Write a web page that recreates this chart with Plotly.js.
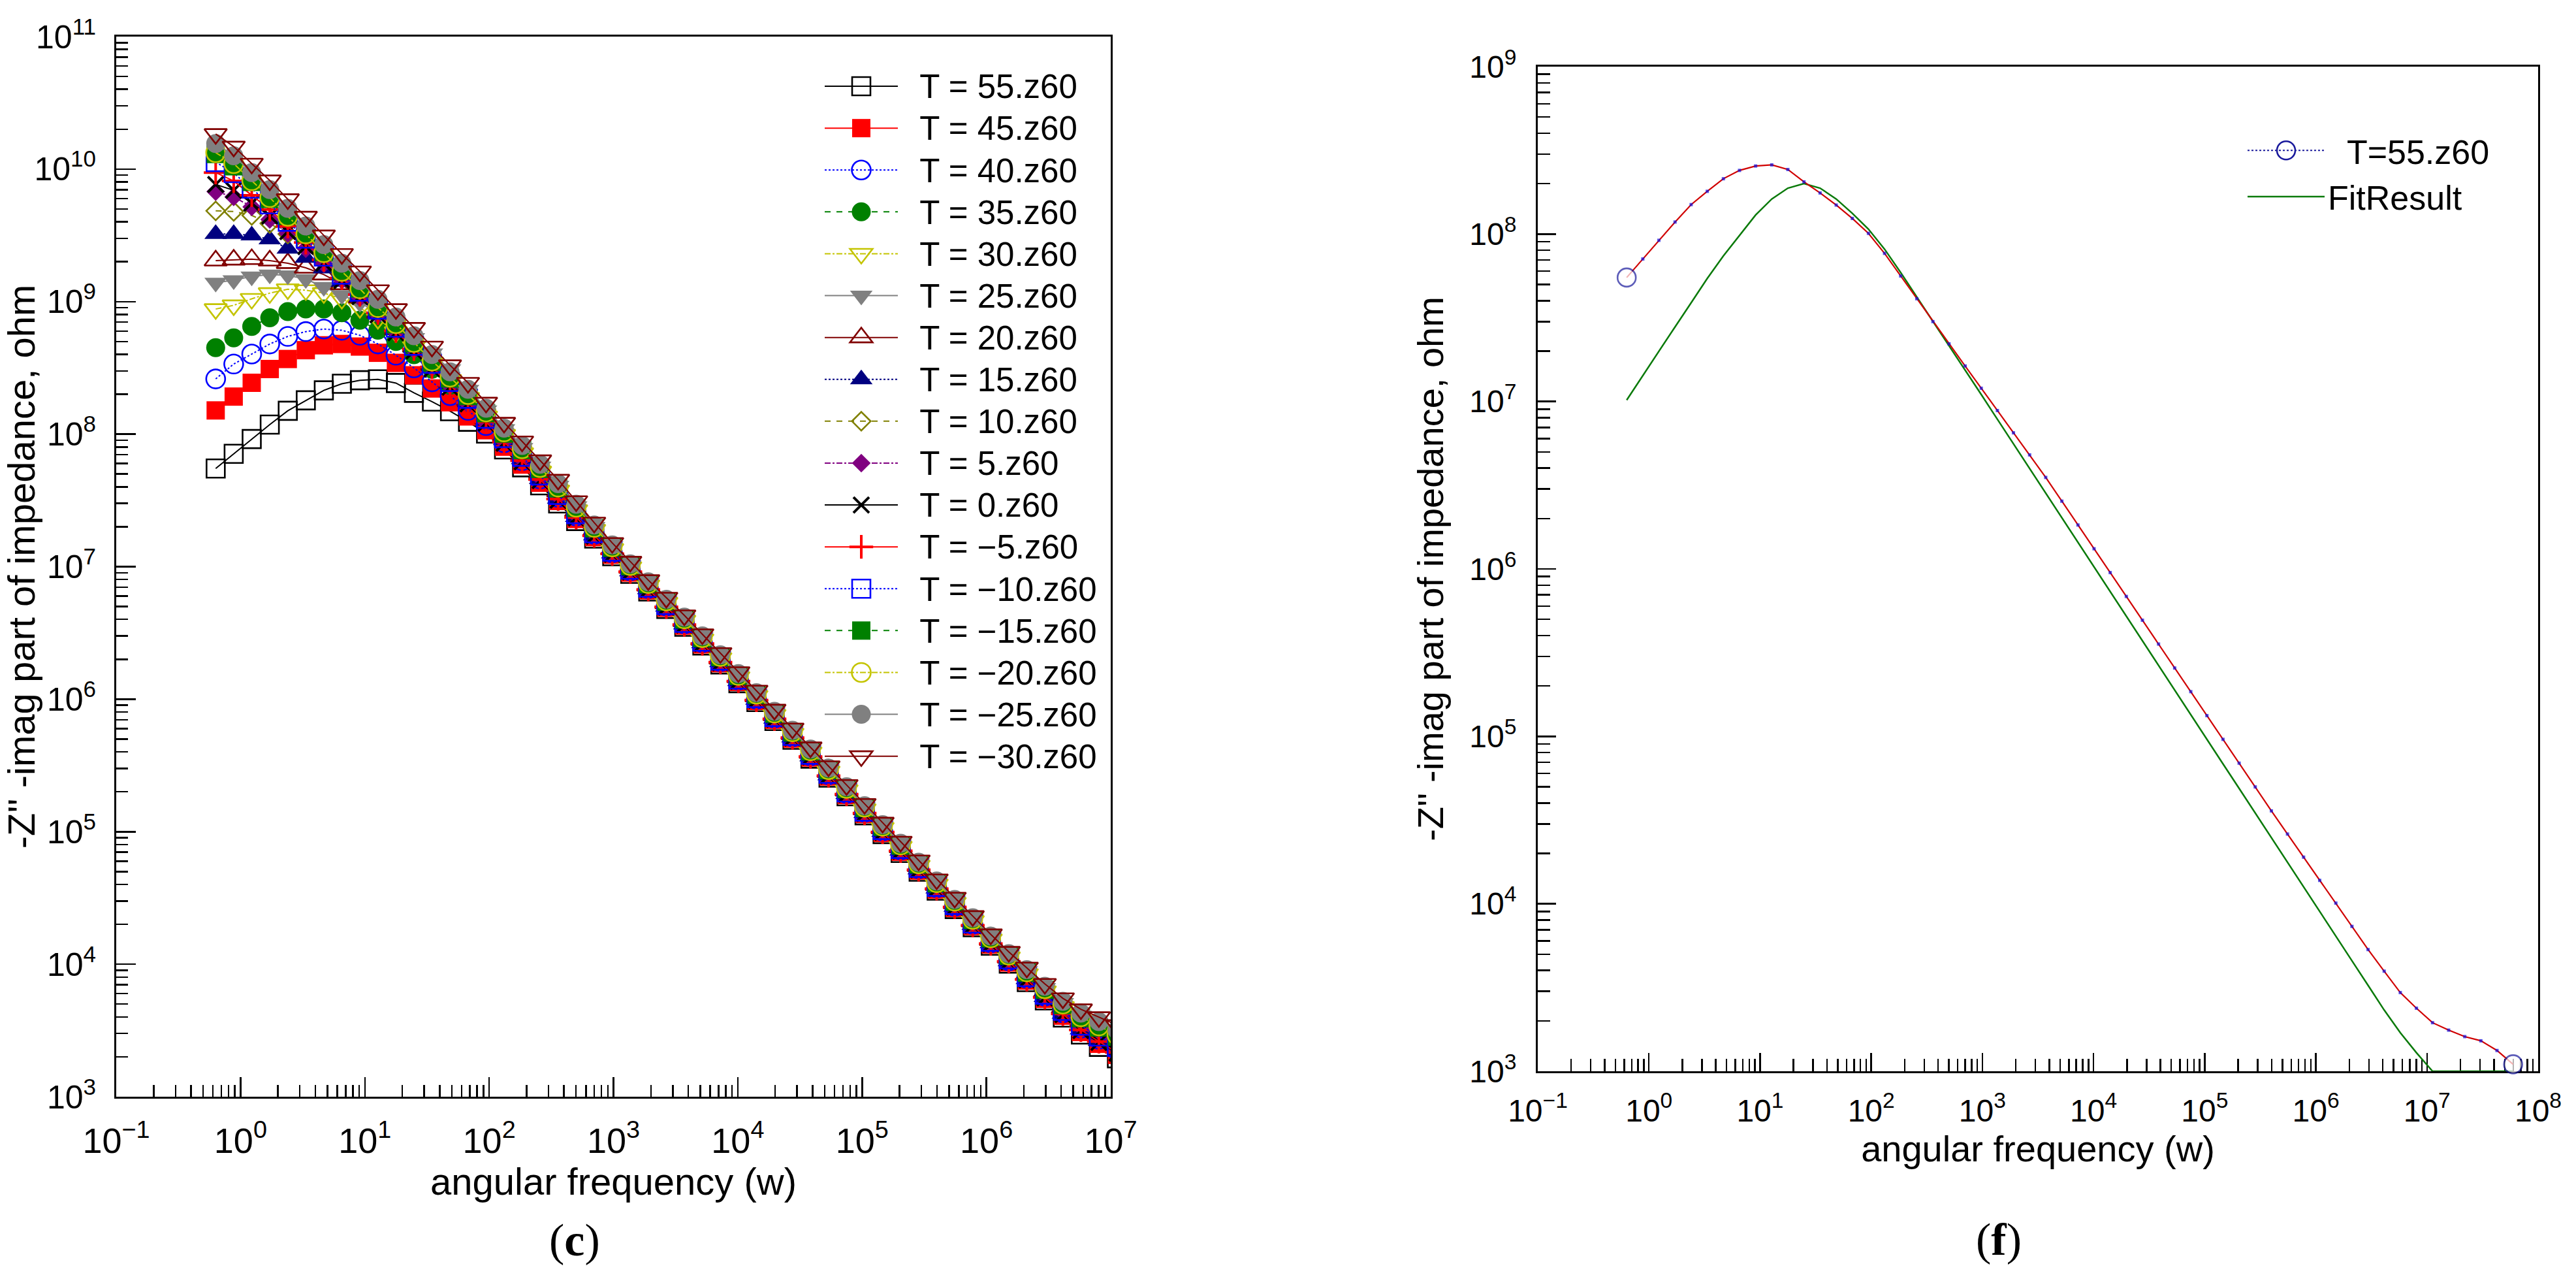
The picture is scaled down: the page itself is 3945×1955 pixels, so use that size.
<!DOCTYPE html>
<html><head><meta charset="utf-8">
<script src="https://cdn.plot.ly/plotly-3.0.1.min.js"></script>
<style>html,body{margin:0;padding:0;background:#fff;}#chart{width:3945px;height:1955px;}</style>
</head><body><div id="chart"></div>
<script>
// ---------------- data ----------------
const freq = [0.631, 0.881, 1.230, 1.718, 2.399, 3.350, 4.677, 6.531, 9.120, 12.74, 17.78, 24.83, 34.67, 48.42, 67.61, 94.41, 131.8, 184.1, 257.0, 358.9, 501.2, 699.8, 977.2, 1365, 1905, 2661, 3715, 5188, 7244, 10116, 14125, 19724, 27542, 38459, 53703, 74989, 104713, 146218, 204174, 285102, 398107, 555904, 776247, 1083927, 1513561, 2113489, 2951209, 4120975, 5754399, 8035261, 11220185, 15667510, 21877616, 30549211, 42657952, 59566214];

const z55 = [5.50e7, 7.10e7, 9.18e7, 1.18e8, 1.50e8, 1.80e8, 2.14e8, 2.40e8, 2.55e8, 2.59e8, 2.43e8, 2.05e8, 1.76e8, 1.49e8, 1.24e8, 1.01e8, 7.67e7, 5.62e7, 4.11e7, 3.00e7, 2.21e7, 1.63e7, 1.20e7, 8.83e6, 6.50e6, 4.80e6, 3.52e6, 2.54e6, 1.83e6, 1.32e6, 9.51e5, 6.85e5, 4.94e5, 3.56e5, 2.56e5, 1.85e5, 1.33e5, 9.60e4, 6.92e4, 4.99e4, 3.59e4, 2.61e4, 1.90e4, 1.38e4, 1.01e4, 7330, 5330, 3960, 2950, 2380, 1950, 1760, 1610, 1520, 1330, 1100];

const fitResult = [1.02e7, 1.43e7, 2.00e7, 2.79e7, 3.89e7, 5.43e7, 7.41e7, 9.77e7, 1.30e8, 1.62e8, 1.88e8, 2.00e8, 1.88e8, 1.62e8, 1.33e8, 1.07e8, 8.13e7, 5.89e7, 4.22e7, 3.02e7, 2.16e7, 1.54e7, 1.10e7, 7.83e6, 5.58e6, 3.98e6, 2.84e6, 2.02e6, 1.44e6, 1.03e6, 7.33e5, 5.22e5, 3.72e5, 2.65e5, 1.89e5, 1.35e5, 9.62e4, 6.85e4, 4.89e4, 3.48e4, 2.48e4, 1.77e4, 1.26e4, 8990, 6410, 4570, 3260, 2320, 1700, 1290, 1000, 1000, 1000, 1000, 1000, 1000];

const zT45 = [1.51e8, 1.92e8, 2.44e8, 3.10e8, 3.69e8, 4.30e8, 4.68e8, 4.79e8, 4.58e8, 4.11e8, 3.45e8, 2.78e8, 2.21e8, 1.74e8, 1.36e8, 1.07e8, 8.04e7, 5.89e7, 4.30e7, 3.13e7, 2.29e7, 1.67e7, 1.23e7, 9.02e6, 6.63e6, 4.90e6, 3.59e6, 2.59e6, 1.87e6, 1.35e6, 9.70e5, 6.99e5, 5.04e5, 3.63e5, 2.61e5, 1.89e5, 1.36e5, 9.79e4, 7.06e4, 5.09e4, 3.66e4, 2.66e4, 1.94e4, 1.41e4, 1.03e4, 7520, 5480, 4090, 3080, 2510, 2070];
const zT40 = [2.61e8, 3.38e8, 4.02e8, 4.79e8, 5.46e8, 5.94e8, 6.21e8, 6.08e8, 5.57e8, 4.79e8, 3.94e8, 3.16e8, 2.48e8, 1.95e8, 1.51e8, 1.16e8, 8.61e7, 6.30e7, 4.58e7, 3.33e7, 2.41e7, 1.75e7, 1.27e7, 9.31e6, 6.83e6, 5.04e6, 3.70e6, 2.67e6, 1.92e6, 1.39e6, 9.99e5, 7.19e5, 5.19e5, 3.74e5, 2.69e5, 1.94e5, 1.40e5, 1.01e5, 7.27e4, 5.24e4, 3.77e4, 2.74e4, 2.00e4, 1.45e4, 1.06e4, 7810, 5730, 4300, 3290, 2710, 2250];
const zT35 = [4.49e8, 5.33e8, 6.49e8, 7.55e8, 8.41e8, 8.79e8, 8.79e8, 8.24e8, 7.23e8, 6.08e8, 5.01e8, 3.98e8, 3.09e8, 2.34e8, 1.82e8, 1.39e8, 1.01e8, 7.36e7, 5.33e7, 3.84e7, 2.72e7, 1.92e7, 1.38e7, 1.00e7, 7.31e6, 5.40e6, 3.96e6, 2.86e6, 2.06e6, 1.49e6, 1.07e6, 7.71e5, 5.56e5, 4.01e5, 2.88e5, 2.08e5, 1.50e5, 1.08e5, 7.79e4, 5.61e4, 4.04e4, 2.94e4, 2.14e4, 1.55e4, 1.14e4, 8530, 6340, 4840, 3840, 3250, 2760];
const zT30 = [8.79e8, 9.38e8, 1.05e9, 1.16e9, 1.24e9, 1.22e9, 1.16e9, 1.05e9, 8.97e8, 7.41e8, 5.89e8, 4.57e8, 3.47e8, 2.57e8, 1.88e8, 1.36e8, 9.89e7, 7.19e7, 5.22e7, 3.76e7, 2.67e7, 1.90e7, 1.36e7, 9.91e6, 7.24e6, 5.35e6, 3.92e6, 2.83e6, 2.04e6, 1.47e6, 1.06e6, 7.63e5, 5.50e5, 3.97e5, 2.85e5, 2.06e5, 1.48e5, 1.07e5, 7.71e4, 5.56e4, 4.00e4, 2.91e4, 2.12e4, 1.54e4, 1.13e4, 8420, 6250, 4760, 3750, 3170, 2680];
const zT25 = [1.39e9, 1.45e9, 1.55e9, 1.60e9, 1.58e9, 1.48e9, 1.29e9, 1.12e9, 9.77e8, 8.32e8, 6.76e8, 5.31e8, 4.07e8, 3.09e8, 2.16e8, 1.51e8, 1.09e8, 7.87e7, 5.70e7, 4.08e7, 2.86e7, 2.00e7, 1.43e7, 1.03e7, 7.53e6, 5.56e6, 4.08e6, 2.94e6, 2.12e6, 1.53e6, 1.10e6, 7.93e5, 5.72e5, 4.12e5, 2.96e5, 2.14e5, 1.54e5, 1.11e5, 8.01e4, 5.78e4, 4.16e4, 3.02e4, 2.20e4, 1.60e4, 1.18e4, 8860, 6620, 5090, 4090, 3510, 3000];
const zT20 = [2.04e9, 2.07e9, 2.09e9, 2.04e9, 1.95e9, 1.80e9, 1.60e9, 1.35e9, 1.07e9, 8.22e8, 6.17e8, 4.57e8, 3.35e8, 2.45e8, 1.80e8, 1.32e8, 9.66e7, 7.00e7, 5.07e7, 3.69e7, 2.62e7, 1.87e7, 1.35e7, 9.79e6, 7.17e6, 5.29e6, 3.88e6, 2.80e6, 2.02e6, 1.46e6, 1.05e6, 7.56e5, 5.45e5, 3.93e5, 2.82e5, 2.04e5, 1.47e5, 1.06e5, 7.63e4, 5.50e4, 3.96e4, 2.88e4, 2.10e4, 1.52e4, 1.12e4, 8320, 6160, 4680, 3670, 3080, 2600];
const zT15 = [3.24e9, 3.24e9, 3.16e9, 2.95e9, 2.51e9, 2.14e9, 1.78e9, 1.41e9, 1.08e9, 8.22e8, 6.10e8, 4.47e8, 3.27e8, 2.40e8, 1.74e8, 1.26e8, 9.02e7, 6.46e7, 4.57e7, 3.26e7, 2.37e7, 1.72e7, 1.26e7, 9.20e6, 6.76e6, 4.99e6, 3.66e6, 2.64e6, 1.90e6, 1.37e6, 9.89e5, 7.12e5, 5.14e5, 3.70e5, 2.66e5, 1.92e5, 1.38e5, 9.98e4, 7.20e4, 5.19e4, 3.73e4, 2.71e4, 1.98e4, 1.44e4, 1.05e4, 7710, 5640, 4230, 3220, 2640, 2190];
const zT10 = [4.84e9, 4.79e9, 4.47e9, 3.89e9, 3.24e9, 2.63e9, 2.09e9, 1.60e9, 1.20e9, 8.91e8, 6.53e8, 4.79e8, 3.51e8, 2.57e8, 1.86e8, 1.35e8, 9.66e7, 6.92e7, 4.95e7, 3.54e7, 2.54e7, 1.82e7, 1.32e7, 9.59e6, 7.03e6, 5.19e6, 3.81e6, 2.75e6, 1.98e6, 1.43e6, 1.03e6, 7.40e5, 5.34e5, 3.85e5, 2.77e5, 2.00e5, 1.44e5, 1.04e5, 7.48e4, 5.39e4, 3.88e4, 2.82e4, 2.05e4, 1.49e4, 1.10e4, 8110, 5980, 4530, 3510, 2930, 2460];
const zT5 = [6.76e9, 6.17e9, 5.19e9, 4.17e9, 3.27e9, 2.51e9, 1.93e9, 1.45e9, 1.07e9, 7.94e8, 5.89e8, 4.32e8, 3.16e8, 2.32e8, 1.68e8, 1.22e8, 8.81e7, 6.46e7, 4.69e7, 3.40e7, 2.45e7, 1.77e7, 1.29e7, 9.40e6, 6.90e6, 5.09e6, 3.73e6, 2.69e6, 1.94e6, 1.40e6, 1.01e6, 7.27e5, 5.24e5, 3.78e5, 2.72e5, 1.96e5, 1.41e5, 1.02e5, 7.34e4, 5.29e4, 3.81e4, 2.77e4, 2.02e4, 1.46e4, 1.07e4, 7910, 5810, 4380, 3360, 2780, 2320];
const zT0 = [7.66e9, 6.92e9, 5.53e9, 4.42e9, 3.37e9, 2.61e9, 1.95e9, 1.44e9, 1.09e9, 7.94e8, 5.81e8, 4.24e8, 3.10e8, 2.26e8, 1.69e8, 1.21e8, 8.53e7, 6.17e7, 4.45e7, 3.17e7, 2.33e7, 1.70e7, 1.24e7, 9.12e6, 6.70e6, 4.94e6, 3.63e6, 2.62e6, 1.88e6, 1.36e6, 9.80e5, 7.06e5, 5.09e5, 3.67e5, 2.64e5, 1.91e5, 1.37e5, 9.89e4, 7.13e4, 5.14e4, 3.70e4, 2.69e4, 1.96e4, 1.42e4, 1.04e4, 7620, 5560, 4160, 3150, 2570, 2130];
const zTm5 = [9.42e9, 8.13e9, 6.35e9, 4.95e9, 3.70e9, 2.79e9, 2.07e9, 1.51e9, 1.13e9, 8.22e8, 6.01e8, 4.39e8, 3.21e8, 2.34e8, 1.73e8, 1.24e8, 8.73e7, 6.31e7, 4.55e7, 3.24e7, 2.35e7, 1.71e7, 1.25e7, 9.16e6, 6.73e6, 4.97e6, 3.65e6, 2.63e6, 1.90e6, 1.37e6, 9.85e5, 7.10e5, 5.12e5, 3.69e5, 2.65e5, 1.92e5, 1.38e5, 9.95e4, 7.17e4, 5.17e4, 3.72e4, 2.70e4, 1.97e4, 1.43e4, 1.05e4, 7670, 5610, 4210, 3190, 2610, 2160];
const zTm10 = [1.13e10, 9.33e9, 7.13e9, 5.43e9, 4.01e9, 2.99e9, 2.19e9, 1.60e9, 1.19e9, 8.71e8, 6.37e8, 4.65e8, 3.40e8, 2.48e8, 1.85e8, 1.31e8, 9.35e7, 6.76e7, 4.88e7, 3.48e7, 2.49e7, 1.79e7, 1.30e7, 9.51e6, 6.96e6, 5.14e6, 3.77e6, 2.72e6, 1.96e6, 1.41e6, 1.02e6, 7.34e5, 5.29e5, 3.81e5, 2.74e5, 1.98e5, 1.42e5, 1.03e5, 7.41e4, 5.34e4, 3.84e4, 2.80e4, 2.03e4, 1.48e4, 1.09e4, 8010, 5900, 4450, 3440, 2850, 2380];
const zTm15 = [1.30e10, 1.05e10, 8.00e9, 5.96e9, 4.45e9, 3.28e9, 2.37e9, 1.71e9, 1.26e9, 9.12e8, 6.75e8, 4.86e8, 3.52e8, 2.63e8, 1.94e8, 1.44e8, 1.01e8, 7.59e7, 5.47e7, 3.90e7, 2.77e7, 1.95e7, 1.39e7, 1.01e7, 7.38e6, 5.45e6, 4.00e6, 2.89e6, 2.08e6, 1.50e6, 1.08e6, 7.78e5, 5.61e5, 4.04e5, 2.91e5, 2.10e5, 1.51e5, 1.09e5, 7.86e4, 5.67e4, 4.08e4, 2.96e4, 2.16e4, 1.57e4, 1.16e4, 8640, 6420, 4920, 3920, 3330, 2840];
const zTm20 = [1.33e10, 1.10e10, 8.18e9, 6.10e9, 4.40e9, 3.24e9, 2.34e9, 1.69e9, 1.25e9, 9.02e8, 6.82e8, 4.92e8, 3.56e8, 2.69e8, 1.99e8, 1.47e8, 1.04e8, 7.76e7, 5.60e7, 3.99e7, 2.81e7, 1.98e7, 1.41e7, 1.02e7, 7.46e6, 5.51e6, 4.04e6, 2.91e6, 2.10e6, 1.51e6, 1.09e6, 7.86e5, 5.67e5, 4.08e5, 2.94e5, 2.12e5, 1.53e5, 1.10e5, 7.94e4, 5.72e4, 4.12e4, 2.99e4, 2.18e4, 1.58e4, 1.17e4, 8750, 6520, 5000, 4010, 3420, 2920];
const zTm25 = [1.56e10, 1.26e10, 9.40e9, 7.00e9, 5.05e9, 3.72e9, 2.69e9, 1.95e9, 1.44e9, 1.04e9, 7.66e8, 5.52e8, 3.99e8, 2.95e8, 2.18e8, 1.57e8, 1.11e8, 8.22e7, 5.93e7, 4.23e7, 2.96e7, 2.06e7, 1.46e7, 1.05e7, 7.68e6, 5.67e6, 4.16e6, 3.00e6, 2.16e6, 1.56e6, 1.12e6, 8.09e5, 5.83e5, 4.20e5, 3.02e5, 2.18e5, 1.57e5, 1.13e5, 8.17e4, 5.89e4, 4.24e4, 3.08e4, 2.24e4, 1.63e4, 1.20e4, 9090, 6810, 5250, 4280, 3690, 3180];
const zTm30 = [1.84e10, 1.48e10, 1.10e10, 8.22e9, 5.93e9, 4.38e9, 3.16e9, 2.29e9, 1.69e9, 1.22e9, 8.79e8, 6.34e8, 4.58e8, 3.31e8, 2.44e8, 1.73e8, 1.22e8, 8.81e7, 6.35e7, 4.53e7, 3.12e7, 2.15e7, 1.51e7, 1.09e7, 7.91e6, 5.83e6, 4.29e6, 3.09e6, 2.23e6, 1.60e6, 1.16e6, 8.34e5, 6.01e5, 4.33e5, 3.12e5, 2.25e5, 1.62e5, 1.17e5, 8.41e4, 6.07e4, 4.37e4, 3.18e4, 2.31e4, 1.68e4, 1.24e4, 9440, 7110, 5530, 4570, 3990, 3470];

const seriesLabels = ['T = 55.z60', 'T = 45.z60', 'T = 40.z60', 'T = 35.z60', 'T = 30.z60', 'T = 25.z60', 'T = 20.z60', 'T = 15.z60', 'T = 10.z60', 'T = 5.z60', 'T = 0.z60', 'T = \u22125.z60', 'T = \u221210.z60', 'T = \u221215.z60', 'T = \u221220.z60', 'T = \u221225.z60', 'T = \u221230.z60'];
const rightLabels = ['T=55.z60', 'FitResult'];

// ---------------- styles ----------------
const leftValues = [z55.slice(0, 51), zT45, zT40, zT35, zT30, zT25, zT20, zT15, zT10, zT5, zT0, zTm5, zTm10, zTm15, zTm20, zTm25, zTm30];
const styles = [
  {c:'#000000', sym:'square-open',        sz:28, dash:'solid'},
  {c:'#ff0000', sym:'square',             sz:28, dash:'solid'},
  {c:'#0000ff', sym:'circle-open',        sz:29, dash:'dot'},
  {c:'#008000', sym:'circle',             sz:29, dash:'dash'},
  {c:'#c4c400', sym:'triangle-down-open', sz:30, dash:'dashdot'},
  {c:'#808080', sym:'triangle-down',      sz:30, dash:'solid'},
  {c:'#800000', sym:'triangle-up-open',   sz:30, dash:'solid'},
  {c:'#000080', sym:'triangle-up',        sz:30, dash:'dot'},
  {c:'#808000', sym:'diamond-open',       sz:22, dash:'dash'},
  {c:'#800080', sym:'diamond',            sz:22, dash:'dashdot'},
  {c:'#000000', sym:'x-thin',             sz:24, dash:'solid', lw:4},
  {c:'#ff0000', sym:'cross-thin',         sz:26, dash:'solid', lw:4},
  {c:'#0000ff', sym:'square-open',        sz:28, dash:'dot'},
  {c:'#008000', sym:'square',             sz:28, dash:'dash'},
  {c:'#c4c400', sym:'circle-open',        sz:29, dash:'dashdot'},
  {c:'#808080', sym:'circle',             sz:29, dash:'solid'},
  {c:'#800000', sym:'triangle-down-open', sz:30, dash:'solid'}
];

const W = 3945, H = 1955;
const px = v => v / W;
const py = v => 1 - v / H;
const FONT = 'Liberation Sans, Arial, Helvetica, sans-serif';
const NB = '\u00a0\u00a0';

function supLabel(n) { return '10<sup>' + (n < 0 ? '\u2212' + (-n) : n) + '</sup>'; }
function decadeVals(a, b) { const v = []; for (let n = a; n <= b; n++) v.push(Math.pow(10, n)); return v; }
function decadeText(a, b) { const t = []; for (let n = a; n <= b; n++) t.push(supLabel(n)); return t; }
function minorVals(a, b) { const v = []; for (let n = a; n < b; n++) for (let m = 2; m <= 9; m++) v.push(m * Math.pow(10, n)); return v; }

function logAxis(o) {
  return {
    type: 'log', range: o.range, domain: o.domain, anchor: o.anchor,
    showline: true, linecolor: '#000', linewidth: 3, mirror: true, layer: o.layer || 'above traces',
    showgrid: false, zeroline: false,
    ticks: 'inside', ticklen: o.len, tickwidth: 2.5, tickcolor: '#000',
    tickmode: 'array', tickvals: decadeVals(o.range[0], o.range[1]), ticktext: decadeText(o.range[0], o.range[1]),
    tickfont: {family: FONT, size: o.font, color: '#000'},
    ticklabelstandoff: o.standoff,
    minor: {ticks: 'inside', ticklen: o.mlen, tickwidth: 2.5, tickcolor: '#000', tickmode: 'array', tickvals: minorVals(o.range[0], o.range[1]), showgrid: false},
    title: {text: o.title, font: {family: FONT, size: o.tfont, color: '#000'}, standoff: o.tstandoff},
    automargin: false, fixedrange: true
  };
}

const traces = [];
const xLeft = freq.slice(0, 51);
leftValues.forEach((vals, i) => {
  const s = styles[i];
  const open = s.sym.indexOf('open') >= 0 || s.sym.indexOf('thin') >= 0;
  traces.push({
    type: 'scatter', mode: 'lines+markers', name: NB + seriesLabels[i],
    x: xLeft.slice(0, vals.length), y: vals, xaxis: 'x', yaxis: 'y', legend: 'legend',
    line: {color: s.c, width: 2, dash: s.dash},
    marker: {symbol: s.sym, size: s.sz, color: s.c, line: {color: s.c, width: open ? (s.lw || 2.6) : 0}}
  });
});

// right panel
const nR = freq.length;
traces.push({
  type: 'scatter', mode: 'lines', name: rightLabels[1], x: freq, y: fitResult, xaxis: 'x2', yaxis: 'y2',
  legend: 'legend2', legendrank: 2, line: {color: '#0a7a0a', width: 2.5}
});
traces.push({
  type: 'scatter', mode: 'lines', name: 'fit-line', x: freq, y: z55, xaxis: 'x2', yaxis: 'y2',
  showlegend: false, line: {color: '#d00000', width: 2.2}
});
traces.push({
  type: 'scatter', mode: 'markers', name: 'data-points', x: freq, y: z55, xaxis: 'x2', yaxis: 'y2',
  showlegend: false, cliponaxis: false,
  marker: {
    symbol: freq.map((_, i) => (i === 0 || i === nR - 1) ? 'circle' : 'square'),
    size: freq.map((_, i) => (i === 0 || i === nR - 1) ? 28 : 5),
    color: freq.map((_, i) => (i === 0 || i === nR - 1) ? '#ffffff' : '#1010e0'),
    line: {color: '#1a1a9c', width: freq.map((_, i) => (i === 0 || i === nR - 1) ? 2.6 : 0)}
  }
});
traces.push({
  type: 'scatter', mode: 'lines+markers', name: NB + rightLabels[0], x: [null], y: [null], xaxis: 'x2', yaxis: 'y2',
  legend: 'legend2', legendrank: 1,
  line: {color: '#1a1a9c', width: 2, dash: 'dot'},
  marker: {symbol: 'circle-open', size: 28, color: '#1a1a9c', line: {color: '#1a1a9c', width: 2.6}}
});

const yTitle = "-Z'' -imag part of impedance, ohm";
const layout = {
  width: W, height: H, autosize: false,
  margin: {l: 0, r: 0, t: 0, b: 0, pad: 0},
  paper_bgcolor: '#ffffff', plot_bgcolor: 'rgba(0,0,0,0)',
  hovermode: false, showlegend: true,
  font: {family: FONT, color: '#000'},
  xaxis: logAxis({range: [-1, 7], domain: [px(178), px(1701)], anchor: 'y', len: 30, mlen: 18, font: 54, standoff: 18,
                  title: 'angular frequency (w)', tfont: 58, tstandoff: 4}),
  yaxis: logAxis({range: [3, 11], domain: [py(1679), py(56)], anchor: 'x', len: 30, mlen: 18, font: 50, standoff: 18,
                  title: yTitle, tfont: 58, tstandoff: 8}),
  xaxis2: logAxis({range: [-1, 8], domain: [px(2355), px(3887)], anchor: 'y2', len: 28, mlen: 19, font: 48, standoff: 16,
                  title: 'angular frequency (w)', tfont: 56, tstandoff: 4, layer: 'below traces'}),
  yaxis2: logAxis({range: [3, 9], domain: [py(1640), py(102)], anchor: 'x2', len: 28, mlen: 19, font: 48, standoff: 20,
                  title: yTitle, tfont: 56, tstandoff: 22}),
  legend: {x: px(1258), y: py(95), xanchor: 'left', yanchor: 'top', bgcolor: 'rgba(255,255,255,0)', borderwidth: 0,
           font: {family: FONT, size: 47, color: '#000'}, itemwidth: 112, tracegroupgap: 0, itemclick: false, itemdoubleclick: false},
  legend2: {x: px(3437), y: py(190), xanchor: 'left', yanchor: 'top', bgcolor: 'rgba(255,255,255,0)', borderwidth: 0,
            font: {family: FONT, size: 52, color: '#000'}, itemwidth: 118, tracegroupgap: 0, traceorder: 'normal'},
  annotations: [
    {xref: 'paper', yref: 'paper', x: px(880), y: py(1898), text: '(<b>c</b>)', showarrow: false,
     font: {family: 'Liberation Serif, Times New Roman, serif', size: 70, color: '#000'}, xanchor: 'center', yanchor: 'middle'},
    {xref: 'paper', yref: 'paper', x: px(3061), y: py(1897), text: '(<b>f</b>)', showarrow: false,
     font: {family: 'Liberation Serif, Times New Roman, serif', size: 70, color: '#000'}, xanchor: 'center', yanchor: 'middle'}
  ]
};

const gd = document.getElementById('chart');
Plotly.newPlot(gd, traces, layout, {displayModeBar: false, staticPlot: true}).then(() => {
  try {
    // enlarge legend markers to the size used in the plot (Plotly caps them at 16px)
    gd.querySelectorAll('.infolayer g.traces').forEach(g => {
      const d = g.__data__;
      if (!d || !d[0] || !d[0].trace || !d[0].trace.marker) return;
      const ms = d[0].trace.marker.size;
      if (typeof ms !== 'number') return;
      const f = ms / Math.min(Math.max(ms, 2), 16);
      g.querySelectorAll('path.scatterpts').forEach(p => {
        const t = p.getAttribute('transform') || '';
        p.setAttribute('transform', t + ' scale(' + f.toFixed(3) + ')');
        p.style.vectorEffect = 'non-scaling-stroke';
      });
    });
    // left legend: wider text like the reference while keeping its tight row spacing
    const leg = gd.querySelector('.infolayer g.legend');
    if (leg) {
      leg.querySelectorAll('[clip-path]').forEach(e => e.removeAttribute('clip-path'));
      leg.querySelectorAll('text.legendtext').forEach(t => { t.style.fontSize = '51px'; });
    }
  } catch (e) { console.log(e); }
});
</script>
</body></html>
